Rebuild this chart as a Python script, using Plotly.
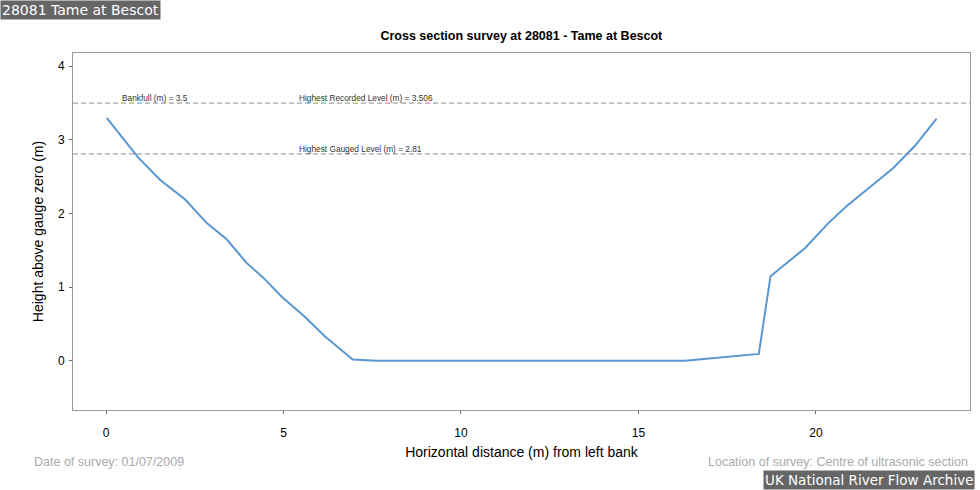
import plotly.graph_objects as go

# survey points
distance_m = [0.02, 0.91, 1.52, 2.23, 2.84, 3.40, 3.96, 4.43, 4.95, 5.60, 6.17, 6.95,
              7.62, 16.31, 18.39, 18.72, 19.69, 20.35, 20.86, 21.60, 22.18, 22.79, 23.40]
height_m = [3.30, 2.76, 2.46, 2.19, 1.87, 1.65, 1.33, 1.13, 0.87, 0.60, 0.33, 0.02,
            0.0, 0.0, 0.095, 1.15, 1.53, 1.87, 2.10, 2.39, 2.62, 2.92, 3.29]

levels = [3.5, 2.81]
level_labels = [
    ("Bankfull (m) = 3.5", 0.38, 3.5),
    ("Highest Recorded Level (m) = 3.506", 5.38, 3.5),
    ("Highest Gauged Level (m) = 2.81", 5.38, 2.81),
]

station = "28081 Tame at Bescot"
survey_date = "01/07/2009"
survey_location = "Centre of ultrasonic section"

fig = go.Figure()
fig.add_trace(
    go.Scatter(
        x=distance_m,
        y=height_m,
        mode="lines",
        line=dict(color="#5a96cf", width=2),
        showlegend=False,
    )
)

for lvl in levels:
    fig.add_hline(y=lvl, line_dash="5px,3px", line_color="#8c8c8c", line_width=1)

for txt, xpos, ypos in level_labels:
    fig.add_annotation(
        x=xpos, y=ypos, text=txt, showarrow=False,
        xanchor="left", yanchor="bottom", yshift=-2,
        font=dict(family="Liberation Sans, Arial", size=8.3, color="#333333"),
    )

# boxed labels and footer texts
fig.add_annotation(
    x=0, y=1, xref="paper", yref="paper", xanchor="left", yanchor="top",
    text=station, showarrow=False, bgcolor="#666666", borderpad=1,
    font=dict(family="DejaVu Sans", size=14, color="white"),
    xshift=-73, yshift=53,
)
fig.add_annotation(
    x=1, y=0, xref="paper", yref="paper", xanchor="right", yanchor="bottom",
    text="UK National River Flow Archive", showarrow=False, bgcolor="#666666",
    borderpad=1, font=dict(family="DejaVu Sans", size=13.5, color="white"),
    xshift=5, yshift=-80,
)
fig.add_annotation(
    x=0, y=0, xref="paper", yref="paper", xanchor="left", yanchor="middle",
    text=f"Date of survey: {survey_date}", showarrow=False,
    font=dict(family="Liberation Sans, Arial", size=12.5, color="#aaaaaa"),
    xshift=-41, yshift=-52,
)
fig.add_annotation(
    x=1, y=0, xref="paper", yref="paper", xanchor="right", yanchor="middle",
    text=f"Location of survey: {survey_location}", showarrow=False,
    font=dict(family="Liberation Sans, Arial", size=12.5, color="#aaaaaa"),
    xshift=0, yshift=-52,
)

fig.update_layout(
    width=980,
    height=490,
    margin=dict(l=73, r=10, t=53, b=80, autoexpand=False),
    paper_bgcolor="white",
    plot_bgcolor="white",
    font=dict(family="Liberation Sans, Arial", size=12, color="black"),
    title=dict(
        text="<b>Cross section survey at 28081 - Tame at Bescot</b>",
        x=0.532, xanchor="center", y=0.927, yanchor="middle",
        font=dict(size=12.5),
    ),
    xaxis=dict(
        title=dict(text="Horizontal distance (m) from left bank", standoff=7),
        range=[-0.93, 24.34],
        tickvals=[0, 5, 10, 15, 20],
        showgrid=False, zeroline=False, automargin=False,
        showline=True, linecolor="#999999", mirror=True,
        ticks="outside", ticklen=3, tickcolor="#666666",
        ticklabelstandoff=9,
    ),
    yaxis=dict(
        title=dict(text="Height above gauge zero (m)", standoff=11),
        range=[-0.667, 4.18],
        tickvals=[0, 1, 2, 3, 4],
        showgrid=False, zeroline=False, automargin=False,
        showline=True, linecolor="#999999", mirror=True,
        ticks="outside", ticklen=3, tickcolor="#666666",
        ticklabelstandoff=2,
    ),
)

# drop the page's default body margin so the figure sits at the top-left corner
fig.write_html(
    "out.html",
    config={"displayModeBar": False},
    post_script="document.body.style.margin = '0';",
)
